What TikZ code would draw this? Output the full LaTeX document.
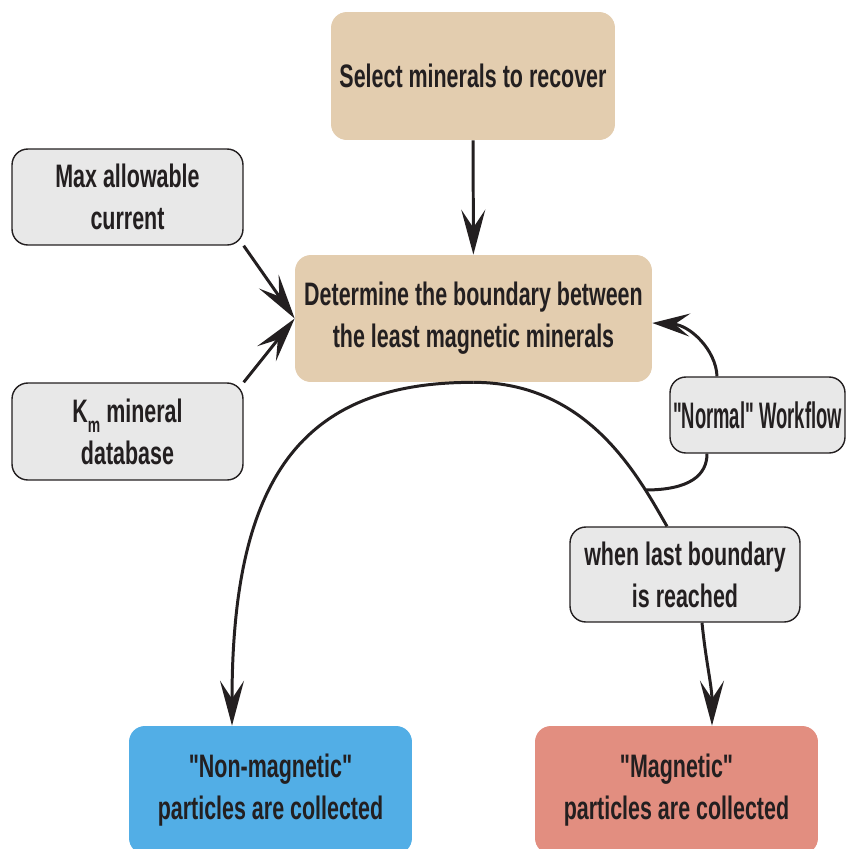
\documentclass[tikz,border=0pt]{standalone}
\usepackage{fontspec}
\setmainfont{Liberation Sans}[FakeStretch=0.66, Ligatures=TeXOff]
\newfontfamily\flowfont{Liberation Sans}[FakeStretch=0.5]
\usetikzlibrary{arrows.meta}
\definecolor{ink}{HTML}{231F20}
\definecolor{sand}{HTML}{E3CDAF}
\definecolor{pale}{HTML}{E8E8E8}
\definecolor{sky}{HTML}{52AEE6}
\definecolor{salmon}{HTML}{E28E80}
\tikzset{
	box/.style={rounded corners=9pt, align=center, inner sep=0pt, text=ink,
		font=\bfseries\fontsize{18.5}{24}\selectfont},
	sandbox/.style={box, fill=sand},
	greybox/.style={box, fill=pale, draw=ink, line width=0.8pt},
	wire/.style={draw=ink, line width=1.7pt},
	flow/.style={wire, -{Stealth[length=0.9cm, width=0.48cm, inset=0.36cm]}},
	loopflow/.style={wire, -{Stealth[length=0.75cm, width=0.46cm, inset=0.3cm]}},
}
\begin{document}
\begin{tikzpicture}[x=0.02cm, y=-0.02cm]
			\useasboundingbox (0,0) rectangle (847,849);
			\clip (0,0) rectangle (847,849);
			% boxes
			\node[sandbox, minimum width=5.68cm, minimum height=2.56cm] (select) at (473,76) {Select minerals to recover};
			\node[greybox, minimum width=4.62cm, minimum height=1.92cm] (maxcur) at (127.5,197) {Max allowable\\current};
			\node[sandbox, minimum width=7.14cm, minimum height=2.54cm] (boundary) at (473.5,318.5) {Determine the boundary between\\the least magnetic minerals};
			\node[greybox, minimum width=4.62cm, minimum height=1.94cm] (kmdb) at (127.5,431.5) {K\raisebox{-0.6ex}{\fontsize{12}{12}\selectfont m} mineral\\database};
			\node[greybox, minimum width=3.5cm, minimum height=1.52cm, font=\flowfont\bfseries\fontsize{21}{24}\selectfont] (normal) at (757.5,415) {"Normal" Workflow};
			\node[greybox, minimum width=4.6cm, minimum height=1.9cm] (last) at (685,574.5) {when last boundary\\is reached};
			\node[box, fill=sky, minimum width=5.66cm, minimum height=2.56cm] (nonmag) at (270.5,790) {"Non-magnetic"\\particles are collected};
			\node[box, fill=salmon, minimum width=5.66cm, minimum height=2.56cm] (mag) at (676.5,790) {"Magnetic"\\particles are collected};
			% connectors
			\draw[flow] (select) -- (boundary);
			\draw[flow] (maxcur.south east) -- (boundary.west);
			\draw[flow] (kmdb.north east) -- (boundary.west);
			\draw[flow] (boundary.south) .. controls (300,382) and (232,480) .. ([xshift=-0.77cm]nonmag.north);
			\draw[wire] (boundary.south) .. controls (590,382) and (640,480) .. ([xshift=-0.36cm]last.north);
			\coordinate (split) at (645,490);
			\draw[wire] (split) .. controls (690,490) and (707,475) .. ([xshift=-1.01cm]normal.south);
			\draw[loopflow] ([xshift=-0.81cm]normal.north) .. controls (716,350) and (690,325) .. ([yshift=-0.09cm]boundary.east);
			\draw[flow] ([xshift=0.34cm]last.south) .. controls +(4,40) and +(0,-40) .. ([xshift=0.71cm]mag.north);
\end{tikzpicture}
\end{document}
